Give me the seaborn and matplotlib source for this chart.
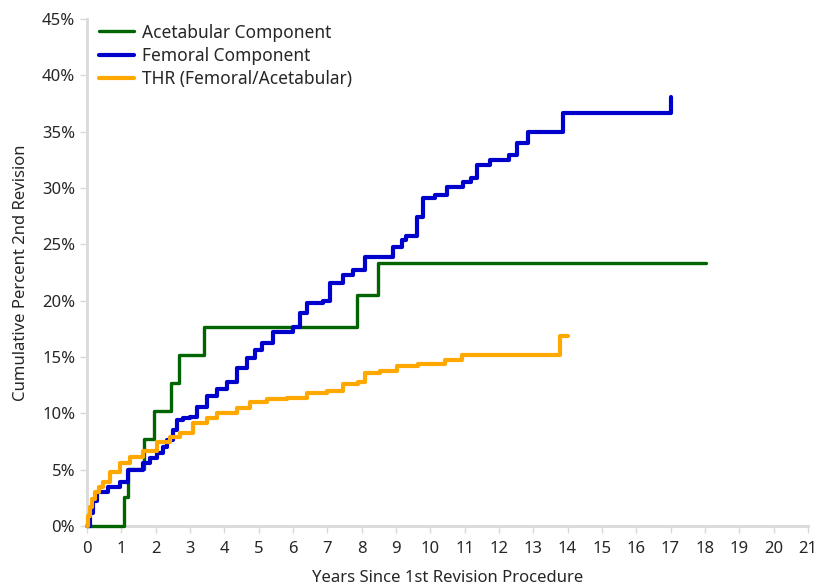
import matplotlib
matplotlib.use("Agg")
import matplotlib.pyplot as plt
import seaborn as sns
import pandas as pd
from matplotlib.ticker import FuncFormatter, MultipleLocator

# Acetabular Component (years, cumulative %)
acet_years = [0.0, 1.08, 1.19, 1.66, 1.95, 2.45, 2.68, 3.41, 7.87, 8.48, 18.03]
acet_pct = [0.0, 2.6, 5.1, 7.7, 10.2, 12.7, 15.2, 17.7, 20.5, 23.3, 23.3]

# Femoral Component
fem_years = [0.0, 0.08, 0.17, 0.29, 0.6, 0.96, 1.2, 1.63, 1.85, 2.04, 2.2, 2.33, 2.5, 2.62,
             2.8, 3.0, 3.2, 3.5, 3.79, 4.08, 4.37, 4.66, 4.9, 5.1, 5.42, 5.53, 6.0,
             6.2, 6.4, 6.87, 7.08, 7.46, 7.75, 8.1, 8.77, 8.92, 9.17, 9.3, 9.6, 9.8,
             10.14, 10.5, 10.95, 11.2, 11.36, 11.74, 12.3, 12.52, 12.85, 13.78, 13.87,
             17.0, 17.01]
fem_pct = [0.0, 1.2, 2.2, 3.0, 3.5, 3.9, 5.0, 5.6, 6.0, 6.5, 7.0, 7.6, 8.5, 9.4,
           9.6, 9.7, 10.6, 11.5, 12.2, 12.8, 14.0, 14.9, 15.6, 16.2, 17.2, 17.2, 17.7,
           18.9, 19.8, 20.0, 21.6, 22.3, 22.7, 23.9, 23.9, 24.8, 25.4, 25.7, 27.4, 29.1,
           29.4, 30.1, 30.5, 30.9, 32.0, 32.5, 32.9, 34.0, 35.0, 35.0, 36.7,
           36.7, 38.1]

# THR (Femoral/Acetabular)
thr_years = [0.0, 0.04, 0.09, 0.16, 0.23, 0.35, 0.47, 0.67, 0.96, 1.25, 1.63, 2.04, 2.42,
             2.71, 3.09, 3.5, 3.79, 4.17, 4.37, 4.75, 5.24, 5.82, 6.4, 6.99, 7.46, 7.9,
             8.1, 8.53, 9.03, 9.64, 10.43, 10.92, 13.78, 13.79, 14.0]
thr_pct = [0.0, 0.9, 1.7, 2.4, 3.0, 3.5, 3.9, 4.8, 5.6, 6.1, 6.7, 7.5, 7.9,
           8.3, 9.1, 9.6, 10.0, 10.0, 10.5, 11.0, 11.3, 11.4, 11.8, 12.0, 12.6, 12.8,
           13.6, 13.8, 14.2, 14.4, 14.7, 15.2, 15.2, 16.9, 16.9]

series_names = ["Acetabular Component", "Femoral Component", "THR (Femoral/Acetabular)"]
colors = ["#006400", "#0000CD", "#FFA800"]
widths = [2.4, 3.0, 3.0]

sns.set_theme(style="white")
plt.rcParams["font.family"] = ["Noto Sans", "DejaVu Sans"]

fig = plt.figure(figsize=(8.16, 5.88), dpi=100)
ax = fig.add_axes([0.1066, 0.1054, 0.8834, 0.8623])

data = [(acet_years, acet_pct), (fem_years, fem_pct), (thr_years, thr_pct)]
for i, (name, (xs, ys), c, lw) in enumerate(zip(series_names, data, colors, widths)):
    df = pd.DataFrame({"Years": xs, "Pct": ys})
    sns.lineplot(data=df, x="Years", y="Pct", ax=ax, color=c, linewidth=lw,
                 drawstyle="steps-post", estimator=None, sort=False, label=name,
                 clip_on=False, zorder=3 + i)

ax.set_xlim(0, 21)
ax.set_ylim(0, 45)
ax.xaxis.set_major_locator(MultipleLocator(1))
ax.yaxis.set_major_locator(MultipleLocator(5))
ax.yaxis.set_major_formatter(FuncFormatter(lambda v, p: f"{int(round(v))}%"))

for s in ["top", "right"]:
    ax.spines[s].set_visible(False)
for s in ["left", "bottom"]:
    ax.spines[s].set_color("#d9d9d9")
    ax.spines[s].set_linewidth(2)
    ax.spines[s].set_zorder(1)

ax.tick_params(axis="both", which="major", length=5, width=1, color="#d9d9d9",
               labelsize=12, labelcolor="#262626", direction="out",
               bottom=True, left=True)
ax.tick_params(axis="x", pad=6)

ax.set_xlabel("Years Since 1st Revision Procedure", fontsize=12, color="#262626", labelpad=9)
ax.set_ylabel("Cumulative Percent 2nd Revision", fontsize=12, color="#262626", labelpad=9)

leg = ax.legend(loc="upper left", bbox_to_anchor=(0.0, 1.015), frameon=False, fontsize=12.5,
                handlelength=2.0, handletextpad=0.45, labelspacing=0.3, borderaxespad=0.3)
for t in leg.get_texts():
    t.set_color("#262626")

fig.savefig("out.png", dpi=100)
